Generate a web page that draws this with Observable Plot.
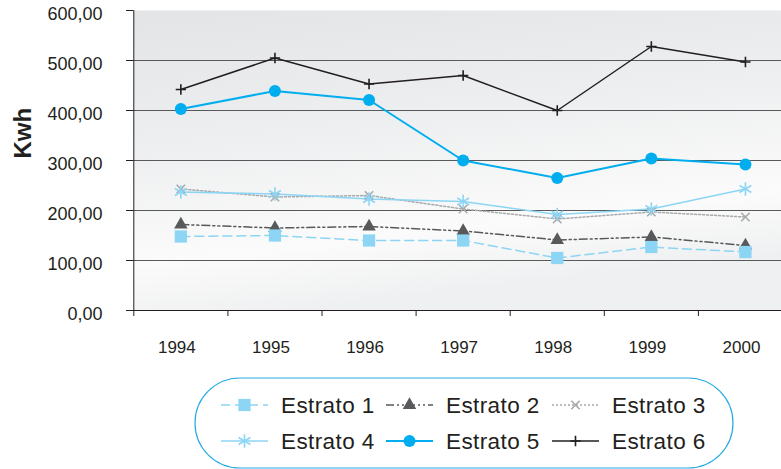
<!DOCTYPE html>
<html>
<head>
<meta charset="utf-8">
<script src="https://cdn.jsdelivr.net/npm/d3@7"></script>
<script src="https://cdn.jsdelivr.net/npm/@observablehq/plot@0.6"></script>
<style>
  html, body { margin: 0; padding: 0; background: #fff; overflow: hidden; }
  #chart { width: 781px; height: 469px; font-family: "Liberation Sans", Arial, sans-serif; }
  #chart svg { display: block; }
</style>
</head>
<body>
<div id="chart"></div>
<script>
// Consumo medio (Kwh) por estrato, 1994–2000
const years = [1994, 1995, 1996, 1997, 1998, 1999, 2000];
const estrato1 = [148, 150, 140, 140, 105, 127, 117];
const estrato2 = [172, 165, 168, 159, 141, 147, 130];
const estrato3 = [243, 227, 230, 203, 183, 197, 187];
const estrato4 = [237, 233, 223, 218, 192, 203, 243];
const estrato5 = [403, 439, 421, 300, 265, 304, 292];
const estrato6 = [442, 505, 453, 470, 400, 528, 497];
const seriesNames = ["Estrato 1", "Estrato 2", "Estrato 3", "Estrato 4", "Estrato 5", "Estrato 6"];
const seriesValues = [estrato1, estrato2, estrato3, estrato4, estrato5, estrato6];
const yTicks = [0, 100, 200, 300, 400, 500, 600];
const yLabel = "Kwh";

// Line and marker style of each series
const seriesStyle = {
  "Estrato 1": {color: "#8dd5f4", dash: "9,5",           width: 1.5, symbol: "square",   r: 6.9, filled: true},
  "Estrato 2": {color: "#58595b", dash: "8,3,2,3,2,3",   width: 1.5, symbol: "triangle", r: 5.0, filled: true},
  "Estrato 3": {color: "#a7a9ac", dash: "2,2",           width: 1.5, symbol: "times",    r: 3.9, filled: false},
  "Estrato 4": {color: "#8dd5f4", dash: null,            width: 1.6, symbol: "asterisk", r: 6.5, filled: false},
  "Estrato 5": {color: "#00aeef", dash: null,            width: 2,   symbol: "circle",   r: 6,   filled: true},
  "Estrato 6": {color: "#231f20", dash: null,            width: 1.5, symbol: "plus",     r: 3.4, filled: false}
};
const drawOrder = ["Estrato 6", "Estrato 5", "Estrato 3", "Estrato 4", "Estrato 2", "Estrato 1"];

// Long table: one row per series and year
const rows = seriesNames.flatMap((name, i) =>
  years.map((year, j) => ({series: name, year, value: seriesValues[i][j]}))
);
const bandEdges = [years[0] - 0.5, ...years.map(y => y + 0.5)];
const fmt = d => d.toFixed(2).replace(".", ",");
const ink = "#231f20";

const lineMarks = drawOrder.map(name => {
  const s = seriesStyle[name];
  return Plot.line(rows.filter(d => d.series === name), {
    x: "year", y: "value", stroke: s.color, strokeWidth: s.width,
    strokeDasharray: s.dash ?? undefined
  });
});
const dotMarks = drawOrder.map(name => {
  const s = seriesStyle[name];
  return Plot.dot(rows.filter(d => d.series === name), {
    x: "year", y: "value", symbol: s.symbol, r: s.r,
    fill: s.filled ? s.color : "none",
    stroke: s.filled ? "none" : s.color,
    strokeWidth: s.filled ? 0 : 1.6
  });
});

const plot = Plot.plot({
  width: 781,
  height: 372,
  marginLeft: 133,
  marginRight: 0,
  marginTop: 10,
  marginBottom: 62,
  style: {fontFamily: "\"Liberation Sans\", Arial, sans-serif", fontSize: "17px", color: ink, background: "transparent"},
  x: {type: "linear", domain: [bandEdges[0], bandEdges[bandEdges.length - 1]], range: [133.3, 792]},
  y: {domain: [0, 600]},
  marks: [
    Plot.frame({fill: "url(#plotBg)", stroke: "none"}),
    Plot.ruleY(yTicks.slice(1, -1), {stroke: "#58595b", strokeWidth: 1}),
    Plot.ruleY([0], {stroke: ink, strokeWidth: 1}),
    Plot.ruleX([bandEdges[0]], {stroke: ink, strokeWidth: 1}),
    // y ticks and labels
    Plot.axisY({ticks: yTicks, tickSize: 7, fill: "none", stroke: ink, label: null}),
    Plot.axisY({ticks: yTicks, tickSize: 0, tickPadding: 31, dy: 3.5, tickFormat: fmt, fontSize: 18, fill: ink, label: null}),
    // x ticks at category boundaries, labels at categories
    Plot.axisX({ticks: bandEdges, tickSize: 6, fill: "none", stroke: ink, label: null}),
    Plot.axisX({ticks: years, tickSize: 0, tickPadding: 30, dx: -4, tickFormat: d => String(d), fontSize: 17, fill: ink, label: null}),
    Plot.text([yLabel], {frameAnchor: "left", rotate: -90, dx: -110, dy: -2, fontWeight: "bold", fontSize: 24, fill: ink}),
    ...lineMarks,
    ...dotMarks
  ]
});

// Soft grey gradient behind the plotting area
const defs = d3.select(plot).insert("defs", ":first-child");
const grad = defs.append("linearGradient").attr("id", "plotBg")
  .attr("x1", "0").attr("y1", "0").attr("x2", "0.25").attr("y2", "1");
[[0, "#e3e4e6"], [0.45, "#eeeff0"], [0.8, "#fbfbfb"], [1, "#eff0f1"]].forEach(([o, c]) =>
  grad.append("stop").attr("offset", o).attr("stop-color", c));

document.getElementById("chart").append(plot);

// Legend: pill-shaped box with two rows of three entries
const legend = d3.select("#chart").append("svg").attr("width", 781).attr("height", 97);
legend.append("rect")
  .attr("x", 195).attr("y", 6).attr("width", 538).attr("height", 90).attr("rx", 45)
  .attr("fill", "#fff").attr("stroke", "#29abe2").attr("stroke-width", 1.2);

const symbolTypes = {
  square: d3.symbolSquare, triangle: d3.symbolTriangle, times: d3.symbolTimes,
  asterisk: d3.symbolAsterisk, circle: d3.symbolCircle, plus: d3.symbolPlus
};
const colX = [221, 386, 552];
const rowY = [33, 69];
seriesNames.forEach((name, i) => {
  const s = seriesStyle[name];
  const x0 = colX[i % 3], y0 = rowY[Math.floor(i / 3)];
  const g = legend.append("g");
  g.append("line").attr("x1", x0).attr("x2", x0 + 47).attr("y1", y0).attr("y2", y0)
    .attr("stroke", s.color).attr("stroke-width", s.width)
    .attr("stroke-dasharray", s.dash);
  g.append("path")
    .attr("transform", `translate(${x0 + 23.5},${y0})`)
    .attr("d", d3.symbol(symbolTypes[s.symbol], s.r * s.r * Math.PI)())
    .attr("fill", s.filled ? s.color : "none")
    .attr("stroke", s.filled ? "none" : s.color)
    .attr("stroke-width", 1.6);
  g.append("text").attr("x", x0 + 60).attr("y", y0).attr("dy", "0.35em")
    .attr("font-size", 22.5).attr("letter-spacing", 0.4).attr("fill", ink)
    .attr("font-family", "\"Liberation Sans\", Arial, sans-serif")
    .text(name);
});
</script>
</body>
</html>
